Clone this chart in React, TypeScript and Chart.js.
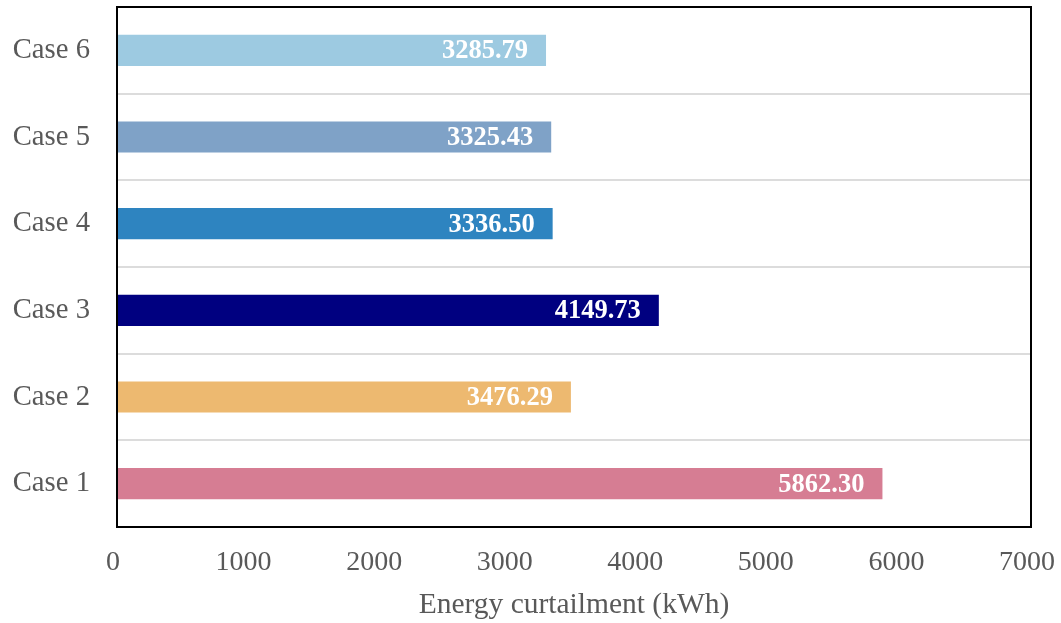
import React, { useEffect, useRef } from "react";
import { Chart, registerables } from "chart.js";

Chart.register(...registerables);

const categories: string[] = ["Case 1", "Case 2", "Case 3", "Case 4", "Case 5", "Case 6"];
const curtailment: number[] = [5862.3, 3476.29, 4149.73, 3336.5, 3325.43, 3285.79];
const barColors: string[] = ["#D67D93", "#EDB970", "#000080", "#2E84C0", "#7FA2C7", "#9DCAE1"];
const xTicks: number[] = [0, 1000, 2000, 3000, 4000, 5000, 6000, 7000];
const xTitle = "Energy curtailment (kWh)";

const FONT = "'Liberation Serif', 'Times New Roman', serif";

const borderPlugin = {
  id: "plotBorder",
  afterDatasetsDraw(chart: any) {
    const { ctx, chartArea } = chart;
    ctx.save();
    ctx.strokeStyle = "#000000";
    ctx.lineWidth = 2;
    ctx.strokeRect(chartArea.left, chartArea.top, chartArea.right - chartArea.left, chartArea.bottom - chartArea.top);
    ctx.restore();
  },
};

const valueLabelPlugin = {
  id: "valueLabels",
  afterDatasetsDraw(chart: any) {
    const { ctx } = chart;
    const meta = chart.getDatasetMeta(0);
    const data = chart.data.datasets[0].data as number[];
    ctx.save();
    ctx.font = `bold 26.5px ${FONT}`;
    ctx.fillStyle = "#ffffff";
    ctx.textAlign = "right";
    ctx.textBaseline = "middle";
    meta.data.forEach((bar: any, i: number) => {
      ctx.fillText(data[i].toFixed(2), bar.x - 18, bar.y + 1);
    });
    ctx.restore();
  },
};

export default function App() {
  const ref = useRef<HTMLCanvasElement | null>(null);

  useEffect(() => {
    document.body.style.margin = "0";
    const canvas = ref.current;
    if (!canvas) return;
    const chart = new Chart(canvas, {
      type: "bar",
      data: {
        labels: categories,
        datasets: [
          {
            data: curtailment,
            backgroundColor: barColors,
            borderWidth: 0,
            categoryPercentage: 1,
            barPercentage: 0.36,
          },
        ],
      },
      options: {
        indexAxis: "y",
        animation: false,
        responsive: false,
        maintainAspectRatio: false,
        layout: { padding: { top: 7, right: 30, left: 0, bottom: 0 } },
        plugins: {
          legend: { display: false },
          tooltip: { enabled: false },
        },
        scales: {
          x: {
            min: 0,
            max: 7000,
            afterBuildTicks: (scale: any) => {
              scale.ticks = xTicks.map((v) => ({ value: v }));
            },
            afterFit: (scale: any) => {
              scale.height = 96;
              scale.paddingLeft = 0;
              scale.paddingRight = 0;
            },
            grid: { display: false, drawTicks: false },
            border: { display: false },
            ticks: {
              color: "#595959",
              font: { family: FONT, size: 28 },
              padding: 19,
              maxRotation: 0,
              labelOffset: -4,
              callback: (v: any) => String(v),
            },
            title: {
              display: true,
              text: xTitle,
              color: "#595959",
              font: { family: FONT, size: 29.5 },
              padding: { top: 0, bottom: 0 },
            },
          },
          y: {
            reverse: true,
            afterFit: (scale: any) => {
              scale.width = 117;
              scale.paddingTop = 0;
              scale.paddingBottom = 0;
            },
            grid: {
              display: true,
              offset: true,
              drawTicks: false,
              color: "#dcdcdc",
              lineWidth: 2,
            },
            border: { display: false },
            ticks: {
              color: "#595959",
              font: { family: FONT, size: 28.7 },
              padding: 27,
            },
          },
        },
      },
      plugins: [valueLabelPlugin, borderPlugin],
    } as any);
    return () => chart.destroy();
  }, []);

  return (
    <div style={{ position: "absolute", left: 0, top: 0, width: 1061, height: 623, background: "#ffffff" }}>
      <canvas ref={ref} width={1061} height={623} style={{ width: 1061, height: 623 }} />
    </div>
  );
}
